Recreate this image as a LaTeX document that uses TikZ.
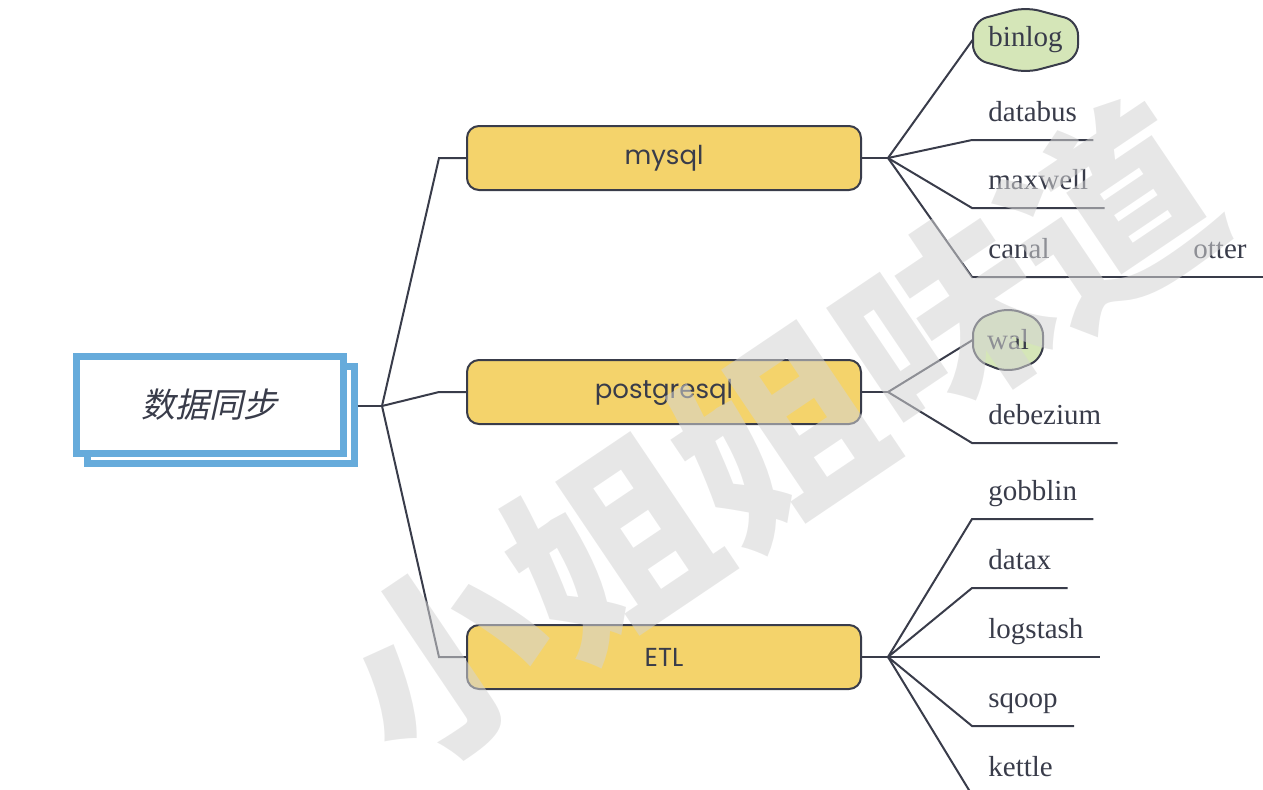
\documentclass[tikz,border=0pt]{standalone}
\usepackage{fontspec}
\setmainfont{Liberation Serif}
\newfontfamily\boxfont{Poppins}
\newfontfamily\cjk{Noto Sans CJK SC}
\newfontfamily\cjkslant[FakeSlant=0.22]{Noto Sans CJK SC}
\usetikzlibrary{calc}
\definecolor{ink}{HTML}{393C4A}
\definecolor{sky}{HTML}{66ABDB}
\definecolor{mustard}{HTML}{F4D36B}
\definecolor{sage}{HTML}{D5E6B8}
\definecolor{wmgray}{HTML}{D4D4D4}
\pgfdeclarelayer{bg}
\pgfsetlayers{bg,main}
\begin{document}
\begin{tikzpicture}[x=.5pt,y=-.5pt,
    link/.style={draw=ink,line width=1pt},
    rootbox/.style={draw=sky,line width=3.5pt,fill=white,inner sep=0pt,
      minimum width=133.5pt,minimum height=48.5pt,text=ink,
      font=\cjkslant\fontsize{17}{17}\selectfont},
    topic/.style={draw=ink,line width=1pt,fill=mustard,rounded corners=6pt,
      minimum width=197pt,minimum height=32pt,text=ink,
      font=\boxfont\fontsize{13}{13}\selectfont},
    leaf/.style={anchor=south west,inner xsep=8pt,inner ysep=0pt,text height=10pt,
      text depth=9pt,text=ink,font=\fontsize{14.5}{14.5}\selectfont},
    hexa/.style={inner sep=0pt,text=ink,font=\fontsize{14.5}{14.5}\selectfont}]
  \useasboundingbox (0,0) rectangle (1263,789);
  \clip (0,0) rectangle (1263,789);
  % root
  \node[rootbox] (root) at (209.5,404.5) {数据同步};
  \coordinate (rh) at (382,406);
  \begin{pgfonlayer}{bg}
    \node[rootbox] (shade) at ([shift={(11,10)}]root.center) {};
    \draw[link] (rh -| shade.east) -- (rh);
  \end{pgfonlayer}
  % topics
  \node[topic] (mysql) at (664,158) {mysql};
  \node[topic] (postgresql) at (664,392) {postgresql};
  \node[topic] (ETL) at (664,657) {ETL};
  \foreach \t in {mysql,postgresql,ETL}
    \draw[link] (rh) -- ([xshift=-13.5pt]\t.west) -- (\t.west);
  \coordinate (mh) at (888,158);
  \coordinate (ph) at (888,392);
  \coordinate (eh) at (888,657);
  \draw[link] (mysql.east) -- (mh);
  \draw[link] (postgresql.east) -- (ph);
  \draw[link] (ETL.east) -- (eh);
  % green leaves
  \foreach \x/\y/\w in {1025.5/40/52.5,1008/340/35}
    \draw[draw=ink,fill=sage,line width=1pt,rounded corners=7pt]
      (\x,\y-33) -- (\x+\w,\y-19) -- (\x+\w,\y+19) -- (\x,\y+33)
      -- (\x-\w,\y+19) -- (\x-\w,\y-19) -- cycle;
  \node[hexa,minimum width=52.5pt,minimum height=33pt] (binlog) at (1025.5,40) {binlog};
  \node[hexa,minimum width=35pt,minimum height=33pt] (wal) at (1008,340) {wal};
  \draw[link] (mh) -- (binlog.west);
  \draw[link] (ph) -- (wal.west);
  % underlined leaves
  \foreach \t/\y in {databus/140,maxwell/208,canal/277}
    {\node[leaf] (\t) at (972,\y) {\t};
     \draw[link] (mh) -- (\t.south west) -- (\t.south east);}
  \node[leaf] (otter) at (1177,277) {otter};
  \draw[link] (canal.south east) -- (otter.south west) -- (otter.south east);
  \node[leaf] (debezium) at (972,443) {debezium};
  \draw[link] (ph) -- (debezium.south west) -- (debezium.south east);
  \foreach \t/\y in {gobblin/519,datax/588,logstash/657,sqoop/726,kettle/795}
    {\node[leaf] (\t) at (972,\y) {\t};
     \draw[link] (eh) -- (\t.south west) -- (\t.south east);}
  % watermark
  \node[rotate=34,text=wmgray,opacity=.55,font=\cjk\bfseries\fontsize{100}{100}\selectfont]
    (wm) at (778,436) {小姐姐味道};
\end{tikzpicture}
\end{document}
